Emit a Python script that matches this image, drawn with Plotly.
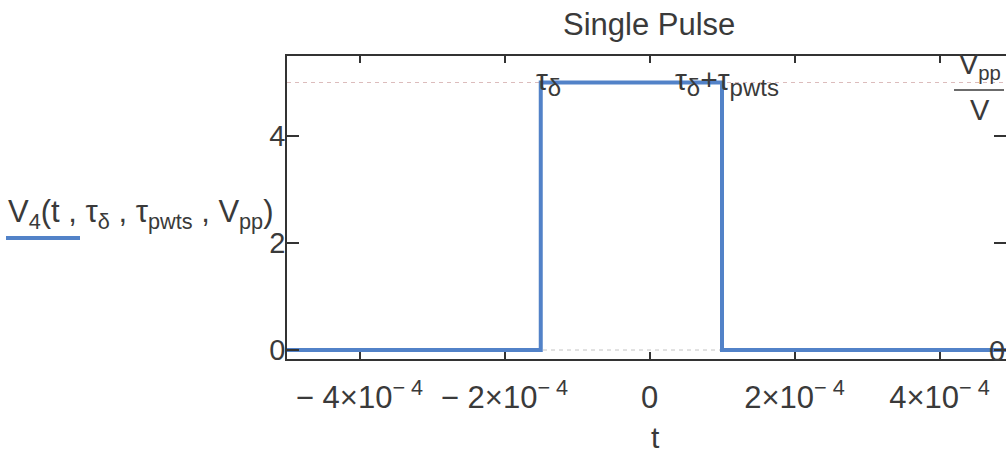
import plotly.graph_objects as go

# ---- data ----
tau_delta = -1.5e-4        # pulse start
tau_pwts = 2.5e-4          # pulse width
V_pp = 5.0                 # pulse height
t_start = -5e-4
t_end = 5e-4

t_vals = [t_start, tau_delta, tau_delta, tau_delta + tau_pwts, tau_delta + tau_pwts, t_end]
v_vals = [0.0, 0.0, V_pp, V_pp, 0.0, 0.0]

x_tickvals = [-4e-4, -2e-4, 0, 2e-4, 4e-4]
x_ticktext = ["− 4×10<sup>− 4</sup>", "− 2×10<sup>− 4</sup>", "0",
              "2×10<sup>− 4</sup>", "4×10<sup>− 4</sup>"]
y_tickvals = [0, 2, 4]
y_ticktext = ["0", "2", "4"]

x_markers = [tau_delta, tau_delta + tau_pwts]
SUB = "<sub><span style='font-size:24px'>{}</span></sub>"
x_marker_labels = ["τ" + SUB.format("δ"),
                   "τ" + SUB.format("δ") + "+τ" + SUB.format("pwts")]
y_markers = [V_pp, 0.0]

title_text = "Single Pulse"
x_title = "t"
legend_text = "V<sub>4</sub>(t , τ<sub>δ</sub> , τ<sub>pwts</sub> , V<sub>pp</sub>)"

# ---- layout geometry (pixels) ----
W, H = 1006, 456
L, R, T, B = 287, 0, 56, 97
PW = W - L - R
PH = H - T - B


def px(x):
    return (x - L) / PW


def py(y):
    return (H - B - y) / PH


FONT = "Liberation Sans, Arial, sans-serif"
TXT = "#3a3a3a"
BLUE = "#5282c8"

fig = go.Figure()

# marker lines (dashed horizontals)
for ym, col in zip(y_markers, ["#dcbcbc", "#c4c4c4"]):
    fig.add_trace(go.Scatter(x=[t_start, t_end], y=[ym, ym], mode="lines",
                             line=dict(color=col, width=1, dash="4px,4px"),
                             hoverinfo="skip", showlegend=False))

fig.add_trace(go.Scatter(x=t_vals, y=v_vals, mode="lines",
                         line=dict(color=BLUE, width=4), showlegend=False,
                         name="V4"))

fig.update_layout(
    width=W, height=H,
    margin=dict(l=L, r=R, t=T, b=B, pad=0, autoexpand=False),
    paper_bgcolor="white", plot_bgcolor="white",
    font=dict(family=FONT, color=TXT, size=25),
    showlegend=False,
)

fig.update_xaxes(
    range=[-5e-4, -5e-4 + PW / 145 * 2e-4],
    tickvals=x_tickvals, ticktext=x_ticktext,
    ticks="inside", ticklen=7, tickwidth=1.5, tickcolor="#333",
    showline=True, linecolor="#333", linewidth=1.5, mirror="ticks",
    showgrid=False, zeroline=False, automargin=False,
    tickfont=dict(size=31, family=FONT, color=TXT),
    ticklabelstandoff=10,
)
fig.update_yaxes(
    range=[-9 / 53.5, (350 - 56) / 53.5],
    tickvals=y_tickvals, ticktext=y_ticktext,
    ticks="inside", ticklen=12, tickwidth=1.5, tickcolor="#333",
    showline=True, linecolor="#333", linewidth=1.5, mirror="ticks",
    showgrid=False, zeroline=False, automargin=False,
    tickfont=dict(size=29, family=FONT, color=TXT),
    ticklabelstandoff=-6,
)

ann = []
# title
ann.append(dict(text=title_text, x=px(649), y=py(25), xref="paper", yref="paper",
                showarrow=False, font=dict(size=31, family=FONT, color=TXT),
                xanchor="center", yanchor="middle"))
# x axis title
ann.append(dict(text=x_title, x=px(655), y=py(437), xref="paper", yref="paper",
                showarrow=False, font=dict(size=30, family=FONT, color=TXT),
                xanchor="center", yanchor="middle"))
# x marker labels at top
for xm, lab, dx in zip(x_markers, x_marker_labels, [8, 5]):
    ann.append(dict(text=lab, x=xm, y=y_markers[0], xref="x", yref="y",
                    showarrow=False, font=dict(size=30, family=FONT, color=TXT),
                    xanchor="center", yanchor="middle", xshift=dx, yshift=1))
# right-side y marker labels
ann.append(dict(text="V<sub>pp</sub>", x=px(980), y=py(66), xref="paper", yref="paper",
                showarrow=False, font=dict(size=29, family=FONT, color=TXT),
                xanchor="center", yanchor="middle"))
ann.append(dict(text="V", x=px(980), y=py(110), xref="paper", yref="paper",
                showarrow=False, font=dict(size=29, family=FONT, color=TXT),
                xanchor="center", yanchor="middle"))
ann.append(dict(text="0", x=px(1007), y=y_markers[1], xref="paper", yref="y",
                showarrow=False, font=dict(size=29, family=FONT, color=TXT),
                xanchor="right", yanchor="middle", yshift=-1))
# legend label
ann.append(dict(text=legend_text, x=px(6), y=py(214), xref="paper", yref="paper",
                showarrow=False, font=dict(size=31, family=FONT, color=TXT),
                xanchor="left", yanchor="middle"))

fig.update_layout(annotations=ann)

shapes = [
    # fraction bar of Vpp / V
    dict(type="line", xref="paper", yref="paper", x0=px(954), x1=px(1004),
         y0=py(90), y1=py(90), line=dict(color=TXT, width=1.5)),
    # legend line sample
    dict(type="line", xref="paper", yref="paper", x0=px(6), x1=px(80),
         y0=py(238), y1=py(238), line=dict(color=BLUE, width=4)),
]
fig.update_layout(shapes=shapes)

fig.write_html("out.html", config={"displayModeBar": False},
               post_script="document.body.style.margin='0';")
